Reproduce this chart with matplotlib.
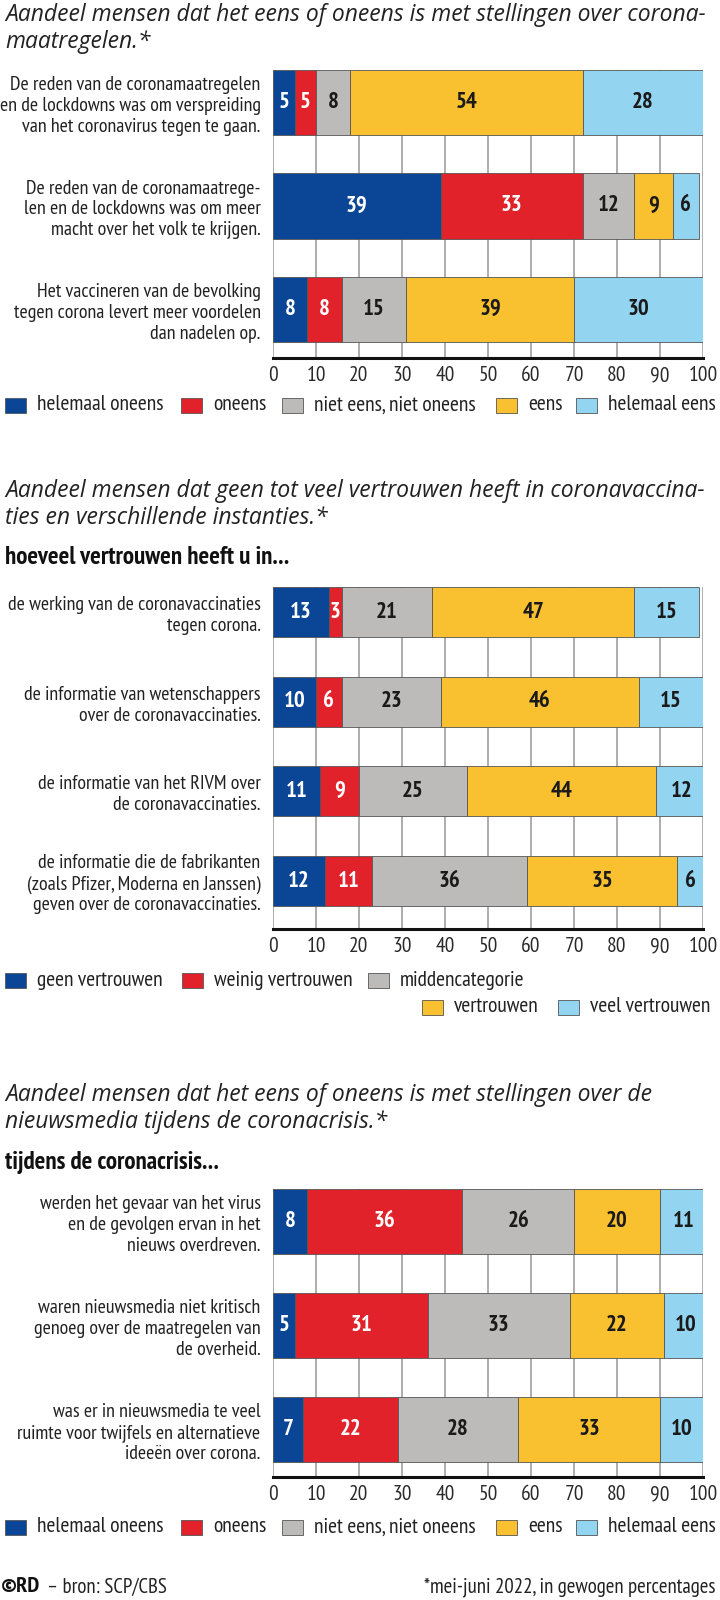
import numpy as np
import matplotlib.pyplot as plt
from matplotlib.patches import Rectangle
from matplotlib import font_manager

# kleuren
kleuren = ['#0b4595', '#e2222a', '#bdbaba', '#f9c02f', '#93d4f1']
tekstkleur = ['white', 'white', '#1a1a1a', '#1a1a1a', '#1a1a1a']

# paneel 1: stellingen over coronamaatregelen
p1_labels = ["De reden van de coronamaatregelen\nen de lockdowns was om verspreiding\nvan het coronavirus tegen te gaan.",
             "De reden van de coronamaatrege-\nlen en de lockdowns was om meer\nmacht over het volk te krijgen.",
             "Het vaccineren van de bevolking\ntegen corona levert meer voordelen\ndan nadelen op."]
p1_hel_oneens = [5, 39, 8]
p1_oneens = [5, 33, 8]
p1_neutraal = [8, 12, 15]
p1_eens = [54, 9, 39]
p1_hel_eens = [28, 6, 30]

# paneel 2: vertrouwen
p2_labels = ["de werking van de coronavaccinaties\ntegen corona.",
             "de informatie van wetenschappers\nover de coronavaccinaties.",
             "de informatie van het RIVM over\nde coronavaccinaties.",
             "de informatie die de fabrikanten\n(zoals Pfizer, Moderna en Janssen)\ngeven over de coronavaccinaties."]
p2_geen = [13, 10, 11, 12]
p2_weinig = [3, 6, 9, 11]
p2_midden = [21, 23, 25, 36]
p2_vertrouwen = [47, 46, 44, 35]
p2_veel = [15, 15, 12, 6]

# paneel 3: nieuwsmedia
p3_labels = ["werden het gevaar van het virus\nen de gevolgen ervan in het\nnieuws overdreven.",
             "waren nieuwsmedia niet kritisch\ngenoeg over de maatregelen van\nde overheid.",
             "was er in nieuwsmedia te veel\nruimte voor twijfels en alternatieve\nideeën over corona."]
p3_hel_oneens = [8, 5, 7]
p3_oneens = [36, 31, 22]
p3_neutraal = [26, 33, 28]
p3_eens = [20, 22, 33]
p3_hel_eens = [11, 10, 10]

leg_eens = ["helemaal oneens", "oneens", "niet eens, niet oneens", "eens", "helemaal eens"]
leg_vertr = ["geen vertrouwen", "weinig vertrouwen", "middencategorie", "vertrouwen", "veel vertrouwen"]

# smal lettertype kiezen (eerste dat er is)
beschikbaar = {f.name for f in font_manager.fontManager.ttflist}
smal_font = 'DejaVu Sans'
for kandidaat in ['PT Sans Narrow', 'Roboto Condensed', 'Fira Sans Condensed', 'Barlow Semi Condensed',
                  'Archivo Narrow', 'Sofia Sans Condensed', 'Liberation Sans']:
    if kandidaat in beschikbaar:
        smal_font = kandidaat
        break
smal = [smal_font, 'DejaVu Sans']
titel_font = 'Open Sans' if 'Open Sans' in beschikbaar else 'Lato'

W, H = 720, 1600
fig = plt.figure(figsize=(W / 100, H / 100), dpi=100)


def fx(x):
    return x / W


def fy(y):
    return 1 - y / H


def paneel(top, bottom, series, labels, bar_h, boven, onder):
    ax = fig.add_axes([fx(273), fy(bottom), fx(703) - fx(273), (bottom - top) / H])
    n = len(labels)
    pos = np.arange(n)
    links = np.zeros(n)
    for i, s in enumerate(series):
        s = np.array(s)
        ax.barh(pos, s, left=links, height=bar_h, color=kleuren[i],
                edgecolor='#555555', linewidth=0.6, zorder=3)
        for j in range(n):
            ax.text(links[j] + s[j] / 2, pos[j], str(s[j]), ha='center', va='center',
                    color=tekstkleur[i], fontsize=16.5, fontweight='bold', family=smal, zorder=4)
        links += s
    ax.set_xlim(0, 100)
    ax.set_ylim(n - 1 + onder, -boven)
    ax.set_xticks(range(0, 101, 10))
    ax.set_xticklabels([str(v) for v in range(0, 101, 10)], family=smal, fontsize=15.5, color='#2a2a2a')
    ax.set_yticks(pos)
    ax.set_yticklabels(labels, family=smal, fontsize=14.4, color='#222222', linespacing=1.2)
    ax.tick_params(axis='both', length=0)
    ax.tick_params(axis='y', pad=9)
    ax.tick_params(axis='x', pad=6)
    ax.xaxis.grid(True, color='#a0a0a0', linewidth=1.2, zorder=0)
    ax.set_axisbelow(True)
    for sp in ['top', 'left', 'right']:
        ax.spines[sp].set_visible(False)
    ax.spines['bottom'].set_linewidth(2.2)
    ax.spines['bottom'].set_color('#111111')
    return ax


def legenda(y, xs, teksten, kleur_idx):
    for x, t, k in zip(xs, teksten, kleur_idx):
        fig.patches.append(Rectangle((fx(x - 32), fy(y + 8)), 21 / W, 15 / H, transform=fig.transFigure,
                                     facecolor=kleuren[k], edgecolor='#555555', linewidth=0.6))
        fig.text(fx(x), fy(y), t, ha='left', va='center', family=smal, fontsize=15.5, color='#222222')


titel = dict(family=[titel_font, 'DejaVu Sans'], style='italic', fontsize=16.5, color='#222222', va='center')
ondertitel = dict(family=smal, fontweight='bold', fontsize=18, color='#111111', va='center')

# paneel 1
fig.text(fx(5), fy(15), "Aandeel mensen dat het eens of oneens is met stellingen over corona-", **titel)
fig.text(fx(5), fy(42), "maatregelen.*", **titel)
paneel(70, 358, [p1_hel_oneens, p1_oneens, p1_neutraal, p1_eens, p1_hel_eens], p1_labels, 0.63, 0.315, 0.47)
legenda(405, [37, 213, 314, 528, 608], leg_eens, range(5))

# paneel 2
fig.text(fx(5), fy(491), "Aandeel mensen dat geen tot veel vertrouwen heeft in coronavaccina-", **titel)
fig.text(fx(5), fy(518), "ties en verschillende instanties.*", **titel)
fig.text(fx(5), fy(558), "hoeveel vertrouwen heeft u in...", **ondertitel)
paneel(587, 929, [p2_geen, p2_weinig, p2_midden, p2_vertrouwen, p2_veel], p2_labels, 0.56, 0.28, 0.535)
legenda(980, [37, 214, 400], leg_vertr[:3], [0, 1, 2])
legenda(1007, [454, 590], leg_vertr[3:], [3, 4])

# paneel 3
fig.text(fx(5), fy(1095), "Aandeel mensen dat het eens of oneens is met stellingen over de", **titel)
fig.text(fx(5), fy(1122), "nieuwsmedia tijdens de coronacrisis.*", **titel)
fig.text(fx(5), fy(1162), "tijdens de coronacrisis...", **ondertitel)
paneel(1189, 1477, [p3_hel_oneens, p3_oneens, p3_neutraal, p3_eens, p3_hel_eens], p3_labels, 0.625, 0.3125, 0.457)
legenda(1527, [37, 213, 314, 528, 608], leg_eens, range(5))

# voetnoot
fig.text(fx(1), fy(1587), "©RD", ha='left', va='center', family=smal, fontweight='bold', fontsize=16, color='#111111')
fig.text(fx(47), fy(1587), "– bron: SCP/CBS", ha='left', va='center', family=smal, fontsize=15, color='#222222')
fig.text(fx(716), fy(1587), "*mei-juni 2022, in gewogen percentages", ha='right', va='center',
         family=smal, fontsize=15, color='#222222')

fig.savefig('out.png', dpi=100, facecolor='white')
